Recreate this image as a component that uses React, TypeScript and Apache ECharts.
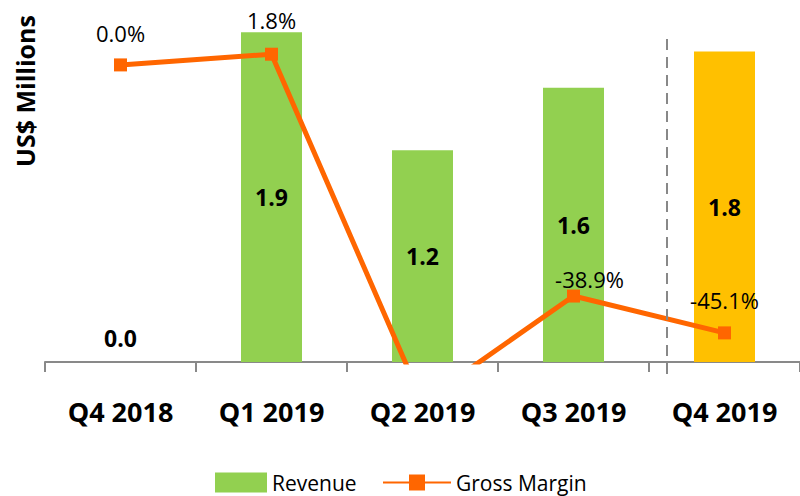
import React, { useEffect, useRef } from "react";
import * as echarts from "echarts";

const categories = ["Q4 2018", "Q1 2019", "Q2 2019", "Q3 2019", "Q4 2019"];
const revenue = [0.0, 1.9, 1.22, 1.58, 1.79];
const grossMargin = [0.0, 1.8, -56.7, -38.9, -45.1];
const marginLabelShown = [true, true, false, true, true];
const marginLabelOffsets = [[0, -14], [0, -17], [0, 0], [16, 0], [0, -15]];

const FONT = "'Open Sans', sans-serif";
const GREEN = "#92D050";
const GOLD = "#FFC000";
const ORANGE = "#FF6600";

export default function App() {
  const ref = useRef<HTMLDivElement>(null);
  useEffect(() => {
    if (!ref.current) return;
    const chart = echarts.init(ref.current, undefined, { renderer: "svg" });
    const lastIdx = categories.length - 1;
    chart.setOption({
      animation: false,
      backgroundColor: "#ffffff",
      textStyle: { fontFamily: FONT },
      grid: { left: 45, width: 759, top: 15, bottom: 134, containLabel: false },
      legend: [
        {
          data: [{ name: "Revenue", icon: "rect" }],
          left: 215,
          top: 472,
          itemWidth: 52,
          itemHeight: 20,
          padding: 0,
          textStyle: { fontFamily: FONT, fontSize: 21, color: "#000" },
        },
        {
          data: ["Gross Margin"],
          left: 382,
          top: 472,
          itemWidth: 68,
          itemHeight: 20,
          padding: 0,
          textStyle: { fontFamily: FONT, fontSize: 21, color: "#000" },
        },
      ],
      xAxis: {
        type: "category",
        data: categories,
        boundaryGap: true,
        axisLine: { show: true, lineStyle: { color: "#898989", width: 2 } },
        axisTick: { show: true, length: 10, alignWithLabel: false, lineStyle: { color: "#898989", width: 2 } },
        axisLabel: {
          margin: 36,
          fontFamily: FONT,
          fontSize: 27,
          fontWeight: "bold",
          color: "#000",
        },
        splitLine: { show: false },
      },
      yAxis: [
        { type: "value", min: 0, max: 2, show: false, splitLine: { show: false } },
        { type: "value", min: -50, max: 8.4, show: false, splitLine: { show: false } },
      ],
      graphic: [
        {
          type: "text",
          x: 25,
          y: 91,
          rotation: Math.PI / 2,
          style: {
            text: "US$ Millions",
            fontFamily: FONT,
            fontSize: 25,
            fontWeight: "bold",
            fill: "#000",
            textAlign: "center",
            textVerticalAlign: "middle",
          },
        },
        {
          type: "line",
          shape: { x1: 667, y1: 39, x2: 667, y2: 378 },
          style: { stroke: "#888888", lineWidth: 2, lineDash: [11, 7] },
          z: 10,
        },
      ],
      series: [
        {
          name: "Revenue",
          type: "bar",
          yAxisIndex: 0,
          barWidth: 61,
          itemStyle: { color: GREEN },
          data: revenue.map((v, i) => ({
            value: v,
            itemStyle: { color: i === lastIdx ? GOLD : GREEN },
            label: v === 0 ? { position: "top", distance: 13 } : undefined,
          })),
          label: {
            show: true,
            position: "inside",
            formatter: (p: any) => Number(p.value).toFixed(1),
            fontFamily: FONT,
            fontSize: 23,
            fontWeight: "bold",
            color: "#000",
          },
        },
        {
          name: "Gross Margin",
          type: "line",
          yAxisIndex: 1,
          clip: true,
          symbol: "rect",
          symbolSize: 13,
          lineStyle: { color: ORANGE, width: 5 },
          itemStyle: { color: ORANGE },
          z: 5,
          data: grossMargin.map((v, i) => ({
            value: v,
            label: { show: marginLabelShown[i], offset: marginLabelOffsets[i] },
          })),
          label: {
            show: true,
            position: "top",
            distance: 0,
            formatter: (p: any) => Number(p.value).toFixed(1) + "%",
            fontFamily: FONT,
            fontSize: 22,
            color: "#000",
          },
        },
      ],
    });
    return () => chart.dispose();
  }, []);
  return (
    <div
      ref={ref}
      style={{ position: "fixed", left: 0, top: 0, width: 800, height: 496 }}
    />
  );
}
